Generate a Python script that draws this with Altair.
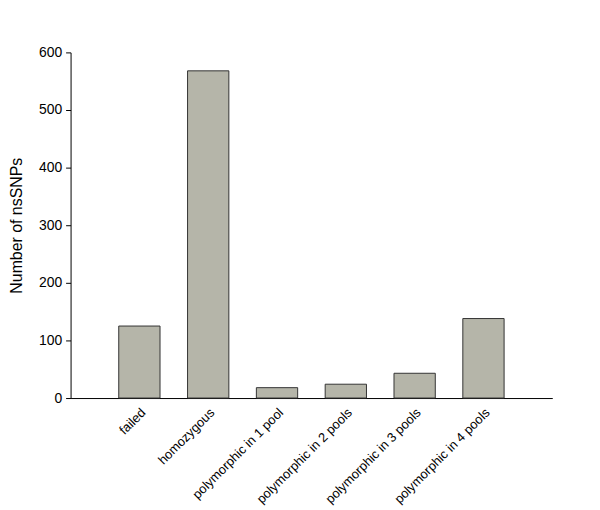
import altair as alt
import pandas as pd

categories = ["failed", "homozygous", "polymorphic in 1 pool", "polymorphic in 2 pools",
              "polymorphic in 3 pools", "polymorphic in 4 pools"]
counts = [125, 568, 18, 24, 43, 138]

df = pd.DataFrame({"category": categories, "count": counts})

chart = alt.Chart(df).mark_bar(
    color="#b5b5a9", stroke="#333333", strokeWidth=1
).encode(
    x=alt.X("category:N", sort=categories, title=None,
            scale=alt.Scale(paddingInner=0.4, paddingOuter=0.7),
            axis=alt.Axis(labelAngle=315, labelFont="Liberation Sans", labelFontSize=13,
                          labelColor="black", ticks=False, domainColor="black",
                          labelPadding=8, labelAlign="right", labelBaseline="top")),
    y=alt.Y("count:Q", title="Number of nsSNPs",
            scale=alt.Scale(domain=[0, 600], nice=False),
            axis=alt.Axis(values=[0, 100, 200, 300, 400, 500, 600], grid=False,
                          labelFont="Liberation Sans", labelFontSize=14, labelColor="black",
                          tickColor="black", tickSize=5, domainColor="black", labelPadding=4,
                          titleFont="Liberation Sans", titleFontSize=16, titleFontWeight="normal",
                          titleColor="black", titlePadding=14))
).properties(
    width=485, height=348,
    autosize=alt.AutoSizeParams(type="none"),
    padding={"left": 63, "top": 43, "right": 40, "bottom": 109}
).configure_view(stroke=None)

chart.save("out.html", embed_options={"renderer": "svg", "actions": False})
